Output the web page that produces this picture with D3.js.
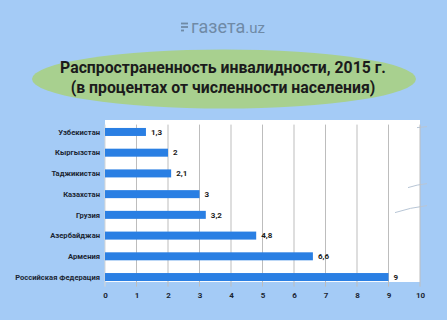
<!DOCTYPE html>
<html>
<head>
<meta charset="utf-8">
<script src="https://cdn.jsdelivr.net/npm/d3@7"></script>
<style>
  body { margin: 0; background: #a4cbf6; }
  svg { display: block; font-family: Roboto, "Noto Sans", sans-serif; }
</style>
</head>
<body>
<div id="chart"></div>
<script>
// Data
const countries = ["Узбекистан", "Кыргызстан", "Таджикистан", "Казахстан", "Грузия", "Азербайджан", "Армения", "Российская Федерация"];
const values = [1.3, 2, 2.1, 3, 3.2, 4.8, 6.6, 9];
const valueLabels = ["1,3", "2", "2,1", "3", "3,2", "4,8", "6,6", "9"];
const ticks = [0, 1, 2, 3, 4, 5, 6, 7, 8, 9, 10];

const W = 447, H = 320;
const margin = { top: 121.6, right: 27, bottom: 32.6, left: 105 };
const width = W - margin.left - margin.right;
const height = H - margin.top - margin.bottom;

const svg = d3.select("#chart")
  .append("svg")
  .attr("width", W)
  .attr("height", H);

// background
svg.append("rect").attr("width", W).attr("height", H).attr("fill", "#a4cbf6");

// logo
const logo = svg.append("g").attr("transform", "translate(181,27)");
[-3.5, 0, 3.5].forEach((dy, i) => {
  logo.append("rect")
    .attr("x", 0).attr("y", dy - 0.9)
    .attr("width", i === 2 ? 3 : 7).attr("height", 1.8)
    .attr("fill", "#6f8aa6");
});
logo.append("text")
  .attr("x", 10).attr("y", 5.5)
  .attr("font-size", 18)
  .attr("fill", "#6f8aa6")
  .text("газета")
  .append("tspan").attr("font-size", 15).text(".uz");

// title bubble
svg.append("ellipse")
  .attr("cx", 224).attr("cy", 79)
  .attr("rx", 192).attr("ry", 29.5)
  .attr("fill", "#a8d08f");

const title = svg.append("text")
  .attr("text-anchor", "middle")
  .attr("font-size", 15.8)
  .attr("font-weight", "bold")
  .attr("fill", "#1b1b1b");
title.append("tspan").attr("x", 223).attr("y", 73).text("Распространенность инвалидности, 2015 г.");
title.append("tspan").attr("x", 223).attr("y", 93).text("(в процентах от численности населения)");

const g = svg.append("g")
  .attr("transform", `translate(${margin.left},${margin.top})`);

const x = d3.scaleLinear().domain([0, 10]).range([0, 315]);
const y = d3.scaleBand().domain(countries).range([0, height]).paddingInner(0.6).paddingOuter(0.3);

// white plot panel
g.append("rect")
  .attr("x", 0).attr("y", -1.6)
  .attr("width", width).attr("height", 162)
  .attr("fill", "#ffffff");

// faint decorative strokes on the panel
g.append("path").attr("d", "M303,66 Q312,63 322,62").attr("stroke", "#b8c6d6").attr("fill", "none");
g.append("path").attr("d", "M290,91 Q305,86 322,84").attr("stroke", "#b8c6d6").attr("fill", "none");
g.append("path").attr("d", "M312,6 L322,5").attr("stroke", "#b8c6d6").attr("fill", "none");

// grid lines
g.selectAll(".grid")
  .data(ticks)
  .enter()
  .append("line")
  .attr("x1", d => x(d)).attr("x2", d => x(d))
  .attr("y1", 3).attr("y2", 165)
  .attr("stroke", d => d === 0 ? "#d6d6d6" : "#bdbdbd")
  .attr("stroke-width", 1);

// bars
g.selectAll(".bar")
  .data(values)
  .enter()
  .append("rect")
  .attr("x", 0)
  .attr("y", (d, i) => y(countries[i]) + y.bandwidth() / 2 - 4)
  .attr("width", d => x(d))
  .attr("height", 8)
  .attr("fill", "#2a7fe3");

// value labels
g.selectAll(".label")
  .data(values)
  .enter()
  .append("text")
  .attr("x", d => x(d) + 5)
  .attr("y", (d, i) => y(countries[i]) + y.bandwidth() / 2)
  .attr("dy", ".35em")
  .attr("font-size", 8)
  .attr("font-weight", "bold")
  .attr("fill", "#1b1b1b")
  .text((d, i) => valueLabels[i]);

// category labels
g.selectAll(".cat")
  .data(countries)
  .enter()
  .append("text")
  .attr("x", -5)
  .attr("y", d => y(d) + y.bandwidth() / 2)
  .attr("dy", ".35em")
  .attr("text-anchor", "end")
  .attr("font-size", 7.6)
  .attr("font-weight", "bold")
  .attr("fill", "#1b2633")
  .text(d => d);

// x axis
const xAxis = g.append("g")
  .attr("transform", `translate(0,${height})`)
  .call(d3.axisBottom(x).tickValues(ticks).tickSize(0).tickPadding(5));
xAxis.select(".domain").remove();
xAxis.selectAll("text")
  .attr("font-size", 8)
  .attr("font-weight", "bold")
  .attr("fill", "#1b2633")
  .attr("font-family", "Roboto, sans-serif");
</script>
</body>
</html>
